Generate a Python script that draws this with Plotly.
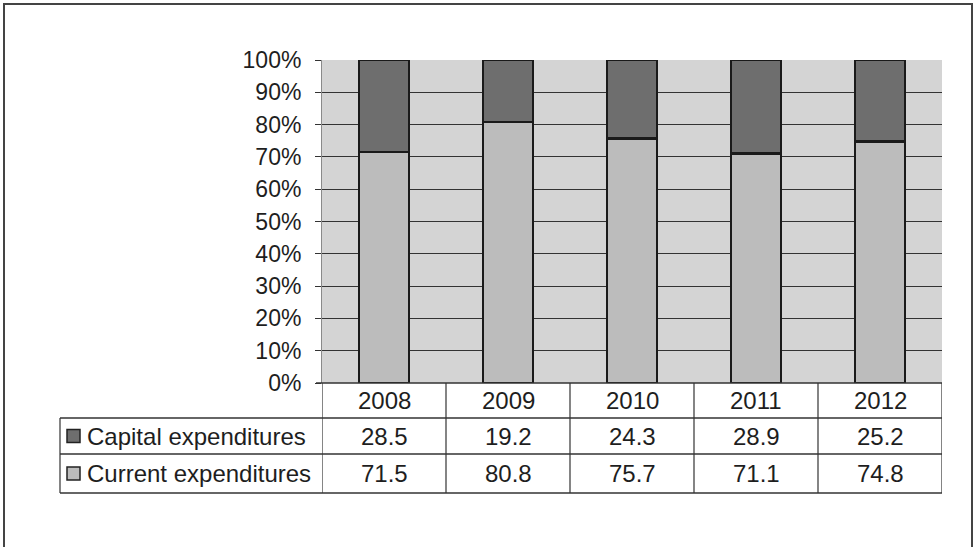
import plotly.graph_objects as go

# Data
years = ["2008", "2009", "2010", "2011", "2012"]
series_names = ["Capital expenditures", "Current expenditures"]
capital = [28.5, 19.2, 24.3, 28.9, 25.2]
current = [71.5, 80.8, 75.7, 71.1, 74.8]

W, H = 975, 547
FONT = "Liberation Sans, Arial, sans-serif"
DARK = "#6e6e6e"
LIGHT = "#bcbcbc"
LINE = "#333333"
TEXT = "#1e1e1e"


def px(x):
    return x / W


def py(y):
    return 1 - y / H


# plot area in pixels
PL, PR, PT, PB = 322, 942, 60, 383
# table rows (pixel y)
ROW_Y = [383, 418, 454, 493]
TABLE_LEFT = 60

fig = go.Figure()
fig.add_trace(go.Bar(x=list(range(len(years))), y=current, name=series_names[1],
                     marker=dict(color=LIGHT, line=dict(color="#1a1a1a", width=2.5))))
fig.add_trace(go.Bar(x=list(range(len(years))), y=capital, name=series_names[0],
                     marker=dict(color=DARK, line=dict(color="#1a1a1a", width=2.5))))

shapes = []
annotations = []

# outer frame (bottom edge runs off the page)
shapes.append(dict(type="rect", xref="paper", yref="paper",
                   x0=px(4), x1=px(972), y0=py(4), y1=-0.02,
                   line=dict(color="#444444", width=2), fillcolor="rgba(0,0,0,0)"))

# data table: horizontal rules
shapes.append(dict(type="line", xref="paper", yref="paper", x0=px(316), x1=px(PR),
                   y0=py(ROW_Y[0]), y1=py(ROW_Y[0]), line=dict(color=LINE, width=1.5)))
for yy in ROW_Y[1:]:
    shapes.append(dict(type="line", xref="paper", yref="paper", x0=px(TABLE_LEFT), x1=px(PR),
                       y0=py(yy), y1=py(yy), line=dict(color=LINE, width=1.5)))
# vertical rules at category boundaries
for i in range(len(years) + 1):
    shapes.append(dict(type="line", xref="x", yref="paper", x0=i - 0.5, x1=i - 0.5,
                       y0=py(ROW_Y[0]), y1=py(ROW_Y[-1]), line=dict(color=LINE, width=1.2)))
shapes.append(dict(type="line", xref="paper", yref="paper", x0=px(TABLE_LEFT), x1=px(TABLE_LEFT),
                   y0=py(ROW_Y[1]), y1=py(ROW_Y[-1]), line=dict(color=LINE, width=1.2)))

# header row: years
for i, yr in enumerate(years):
    annotations.append(dict(x=i, xref="x", y=py((ROW_Y[0] + ROW_Y[1]) / 2), yref="paper",
                            yanchor="middle", text=yr, showarrow=False,
                            font=dict(size=24, color=TEXT, family=FONT)))

# series rows
rows = [(series_names[0], capital, DARK), (series_names[1], current, LIGHT)]
for r, (name, vals, col) in enumerate(rows):
    ymid = (ROW_Y[r + 1] + ROW_Y[r + 2]) / 2
    shapes.append(dict(type="rect", xref="paper", yref="paper",
                       x0=px(67), x1=px(80), y0=py(ymid - 6.5), y1=py(ymid + 6.5),
                       fillcolor=col, line=dict(color="#222222", width=1.5)))
    annotations.append(dict(x=px(85), xref="paper", y=py(ymid), yref="paper",
                            xanchor="left", yanchor="middle",
                            text=name, showarrow=False,
                            font=dict(size=24, color=TEXT, family=FONT)))
    for i, v in enumerate(vals):
        annotations.append(dict(x=i, xref="x", y=py(ymid), yref="paper", yanchor="middle",
                                text=f"{v:.1f}", showarrow=False,
                                font=dict(size=24, color=TEXT, family=FONT)))

fig.update_layout(
    width=W, height=H, autosize=False,
    margin=dict(l=0, r=0, t=0, b=0, pad=0, autoexpand=False),
    paper_bgcolor="white", plot_bgcolor="#d4d4d4",
    barmode="stack", bargap=0.6, showlegend=False,
    font=dict(family=FONT, color=TEXT),
    xaxis=dict(domain=[px(PL), px(PR)], range=[-0.5, len(years) - 0.5],
               showticklabels=False, showgrid=False, zeroline=False, ticks="",
               showline=False, automargin=False, fixedrange=True),
    yaxis=dict(domain=[py(PB), py(PT)], range=[0, 100], dtick=10, ticksuffix="%",
               showgrid=True, gridcolor="#333333", gridwidth=1.2, zeroline=False,
               ticks="outside", ticklen=6, tickcolor="#333333", tickwidth=1.2,
               showline=True, linecolor="#8a8a8a", linewidth=1,
               ticklabelstandoff=9, automargin=False, fixedrange=True,
               tickfont=dict(size=23, color=TEXT, family=FONT)),
    shapes=shapes, annotations=annotations,
)

fig.write_html("out.html")
